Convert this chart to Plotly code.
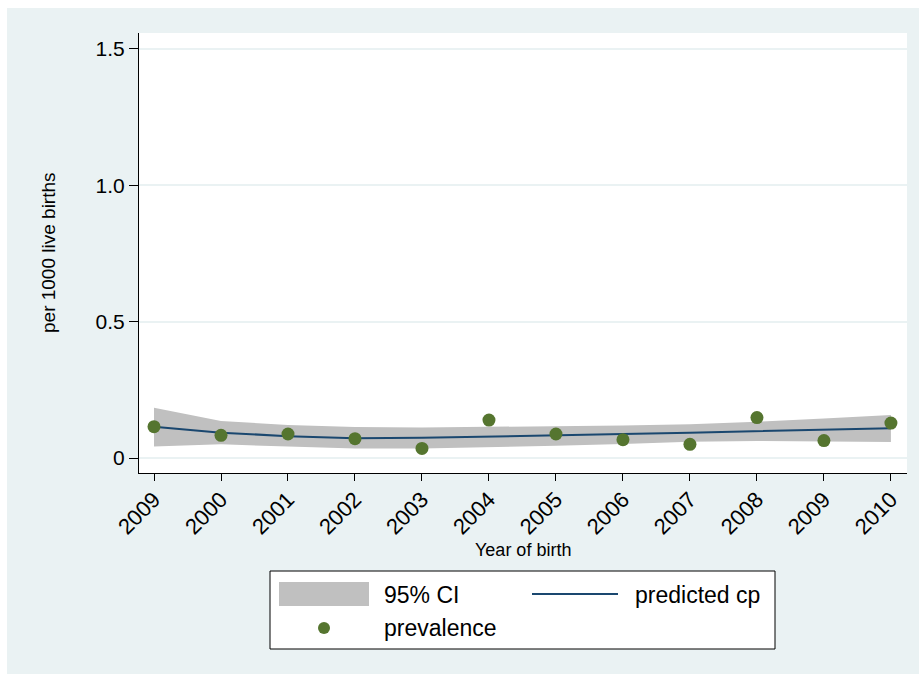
import plotly.graph_objects as go

# Birth years (as labelled on the axis) and estimates per 1000 live births
year_labels = ["2009", "2000", "2001", "2002", "2003", "2004",
               "2005", "2006", "2007", "2008", "2009", "2010"]
prevalence = [0.115, 0.083, 0.088, 0.071, 0.035, 0.139,
              0.088, 0.067, 0.050, 0.148, 0.064, 0.128]
predicted_cp = [0.115, 0.093, 0.080, 0.072, 0.074, 0.078,
                0.083, 0.088, 0.093, 0.098, 0.104, 0.109]
ci_upper = [0.184, 0.136, 0.121, 0.114, 0.112, 0.114,
            0.116, 0.119, 0.124, 0.133, 0.145, 0.158]
ci_lower = [0.042, 0.050, 0.042, 0.035, 0.035, 0.039,
            0.045, 0.051, 0.060, 0.062, 0.061, 0.059]
y_ticks = [0, 0.5, 1.0, 1.5]
y_tick_text = ["0", "0.5", "1.0", "1.5"]

x_pos = list(range(len(year_labels)))

FONT = "Liberation Sans, Arial, sans-serif"
BG = "#EAF2F3"
BAND = "#C0C0C0"
NAVY = "#1A476F"
GREEN = "#55752F"

# plot-area geometry in pixels
FIG_W, FIG_H = 919, 674
L, R, T, B = 139, 907, 33, 473
PW, PH = R - L, B - T


def px(x):
    return (x - L) / PW


def py(y):
    return (B - y) / PH


fig = go.Figure()

# 95% confidence band
fig.add_trace(go.Scatter(x=x_pos, y=ci_lower, mode="lines",
                         line=dict(width=0, color=BAND), hoverinfo="skip",
                         showlegend=False))
fig.add_trace(go.Scatter(x=x_pos, y=ci_upper, mode="lines", fill="tonexty",
                         fillcolor=BAND, line=dict(width=0, color=BAND),
                         name="95% CI", showlegend=False))
# fitted curve
fig.add_trace(go.Scatter(x=x_pos, y=predicted_cp, mode="lines",
                         line=dict(color=NAVY, width=2),
                         name="predicted cp", showlegend=False))
# observed prevalence
fig.add_trace(go.Scatter(x=x_pos, y=prevalence, mode="markers",
                         marker=dict(color=GREEN, size=13),
                         name="prevalence", showlegend=False))

shapes = [
    # white frame strips along the top and left edges
    dict(type="rect", xref="paper", yref="paper", layer="below",
         x0=px(0), x1=px(FIG_W), y0=py(8), y1=py(0),
         fillcolor="white", line=dict(width=0)),
    dict(type="rect", xref="paper", yref="paper", layer="below",
         x0=px(0), x1=px(7), y0=py(FIG_H), y1=py(0),
         fillcolor="white", line=dict(width=0)),
    # legend box
    dict(type="rect", xref="paper", yref="paper",
         x0=px(270), x1=px(775), y0=py(649), y1=py(571),
         fillcolor="white", line=dict(color="black", width=1)),
    dict(type="rect", xref="paper", yref="paper",
         x0=px(279), x1=px(369), y0=py(606), y1=py(582),
         fillcolor=BAND, line=dict(width=0)),
    dict(type="line", xref="paper", yref="paper",
         x0=px(532), x1=px(618), y0=py(594), y1=py(594),
         line=dict(color=NAVY, width=2)),
    dict(type="circle", xref="paper", yref="paper",
         x0=px(318), x1=px(330), y0=py(634), y1=py(622),
         fillcolor=GREEN, line=dict(width=0)),
]

annotations = [
    dict(text="95% CI", x=px(382), y=py(595), xanchor="left", yanchor="middle"),
    dict(text="predicted cp", x=px(633), y=py(595), xanchor="left", yanchor="middle"),
    dict(text="prevalence", x=px(382), y=py(628), xanchor="left", yanchor="middle"),
]
for a in annotations:
    a.update(xref="paper", yref="paper", showarrow=False,
             font=dict(family=FONT, size=23, color="black"))

annotations += [
    dict(text="Year of birth", x=px((L + R) / 2), y=py(550), xref="paper",
         yref="paper", showarrow=False, xanchor="center", yanchor="middle",
         font=dict(family=FONT, size=18, color="black")),
    dict(text="per 1000 live births", x=px(48), y=py(253), xref="paper",
         yref="paper", showarrow=False, xanchor="center", yanchor="middle",
         textangle=-90, font=dict(family=FONT, size=19, color="black")),
]

fig.update_layout(
    width=FIG_W, height=FIG_H,
    margin=dict(l=L, r=FIG_W - R, t=T, b=FIG_H - B, pad=0),
    paper_bgcolor=BG, plot_bgcolor="white",
    font=dict(family=FONT, color="black"),
    shapes=shapes, annotations=annotations,
    showlegend=False,
)

fig.update_xaxes(
    range=[-0.224, 11.24], tickmode="array", tickvals=x_pos,
    ticktext=year_labels, tickangle=-45, ticks="outside", ticklen=7,
    ticklabelstandoff=-3,
    tickcolor="black", tickfont=dict(family=FONT, size=22, color="black"),
    showline=True, linecolor="black", linewidth=1, showgrid=False,
    zeroline=False,
)
fig.update_yaxes(
    range=[-0.055, 1.558], tickmode="array", tickvals=y_ticks,
    ticktext=y_tick_text, ticks="outside", ticklen=9, tickcolor="black",
    tickfont=dict(family=FONT, size=21, color="black"),
    showline=True, linecolor="black", linewidth=1,
    showgrid=True, gridcolor=BG, gridwidth=2, zeroline=False,
)

fig.write_html("out.html")
